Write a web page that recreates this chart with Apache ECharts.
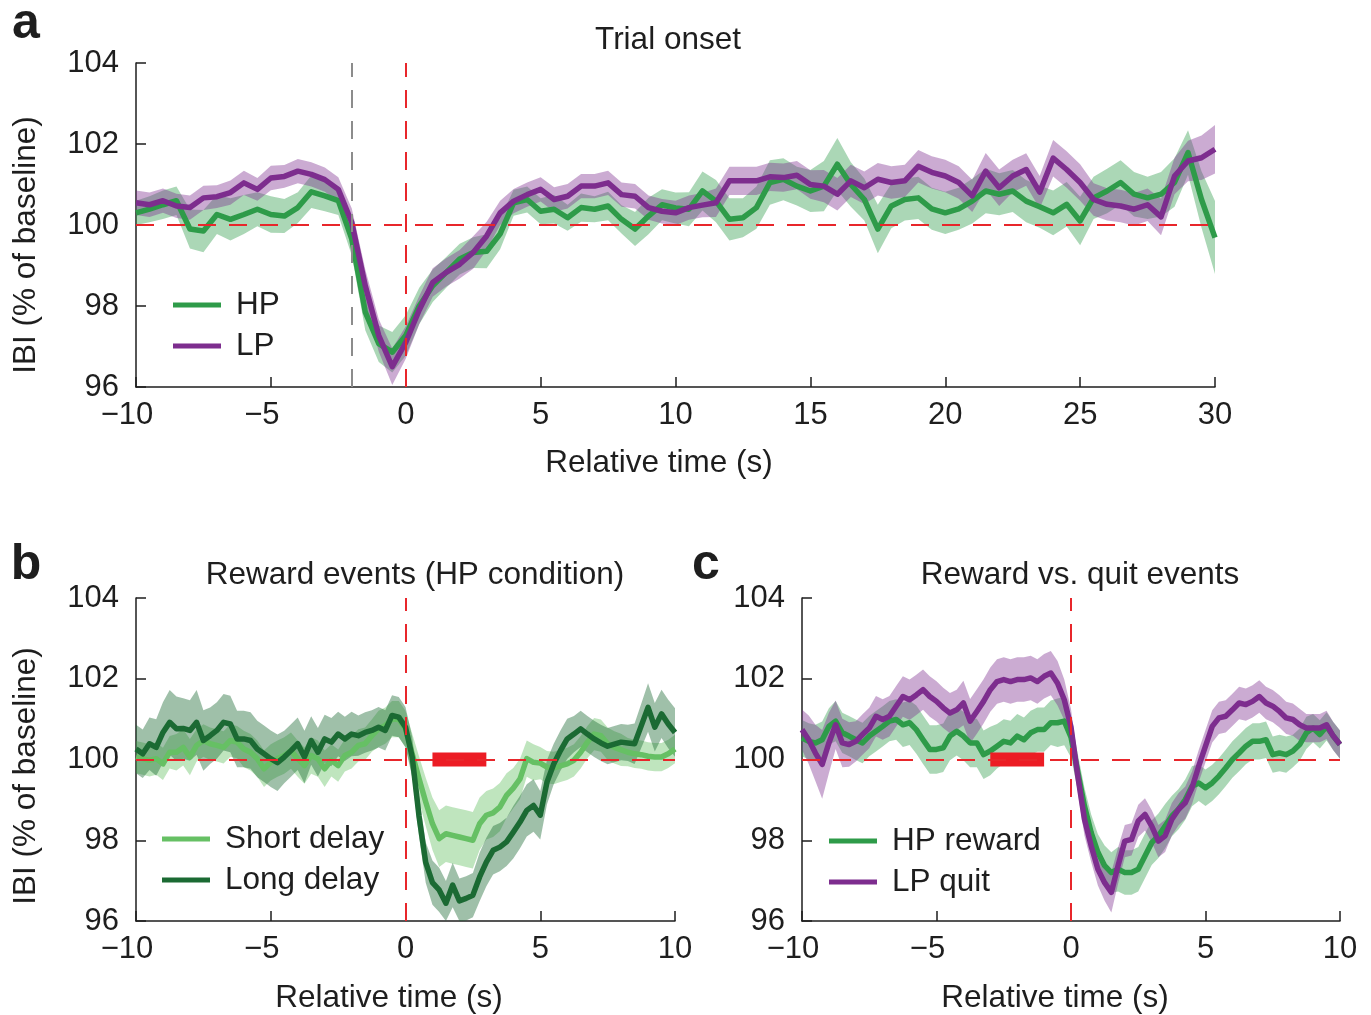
<!DOCTYPE html>
<html><head><meta charset="utf-8">
<script src="https://cdn.jsdelivr.net/npm/echarts/dist/echarts.min.js"></script>
<style>html,body{margin:0;padding:0;background:#fff}#c{width:1371px;height:1015px}</style>
</head><body><div id="c"></div><script>
// ---------- DATA ----------
const tA = [-10,-9.5,-9,-8.5,-8,-7.5,-7,-6.5,-6,-5.5,-5,-4.5,-4,-3.5,-3,-2.5,-2,-1.5,-1,-0.5,0,0.5,1,1.5,2,2.5,3,3.5,4,4.5,5,5.5,6,6.5,7,7.5,8,8.5,9,9.5,10,10.5,11,11.5,12,12.5,13,13.5,14,14.5,15,15.5,16,16.5,17,17.5,18,18.5,19,19.5,20,20.5,21,21.5,22,22.5,23,23.5,24,24.5,25,25.5,26,26.5,27,27.5,28,28.5,29,29.5,30];
const aHP = [100.30,100.39,100.50,100.60,99.90,99.85,100.26,100.14,100.26,100.39,100.26,100.22,100.43,100.82,100.72,100.60,99.65,97.85,97.07,96.86,97.27,98.00,98.50,98.83,99.16,99.32,99.35,99.78,100.55,100.63,100.34,100.39,100.18,100.43,100.39,100.47,100.14,99.90,100.22,100.50,100.42,
  100.39,100.84,100.59,100.14,100.18,100.43,101.05,101.13,100.96,100.84,100.96,101.50,101.00,100.63,99.90,100.47,100.63,100.67,100.40,100.30,100.40,100.59,100.84,100.76,100.84,100.59,100.45,100.30,100.51,100.10,100.67,100.84,101.05,100.76,100.67,100.76,101.05,101.79,100.63,99.69];
const aHPerr = [0.30,0.32,0.35,0.35,0.48,0.52,0.48,0.52,0.48,0.42,0.45,0.42,0.38,0.40,0.38,0.35,0.40,0.45,0.45,0.50,0.50,0.45,0.40,0.38,0.38,0.38,0.42,0.38,0.32,0.32,0.32,0.35,0.32,0.35,0.32,0.35,0.35,0.42,0.45,0.38,0.38,
  0.42,0.48,0.52,0.52,0.48,0.52,0.55,0.52,0.48,0.52,0.62,0.65,0.55,0.52,0.60,0.55,0.52,0.52,0.52,0.52,0.52,0.55,0.55,0.52,0.52,0.52,0.52,0.55,0.55,0.60,0.52,0.55,0.55,0.55,0.52,0.55,0.60,0.55,0.70,0.90];
const aLP = [100.55,100.50,100.60,100.47,100.43,100.67,100.70,100.80,101.04,100.88,101.16,101.20,101.33,101.25,101.12,100.88,100.06,98.50,97.27,96.50,97.10,97.90,98.58,98.83,99.03,99.32,99.73,100.30,100.59,100.75,100.88,100.63,100.71,100.96,100.96,101.04,100.75,100.71,100.43,100.34,100.30,
  100.43,100.49,100.55,101.09,101.09,101.09,101.19,101.17,101.23,101.00,100.96,100.76,101.09,100.92,101.13,101.05,101.09,101.45,101.30,101.21,101.05,100.72,101.33,100.92,101.21,101.37,100.81,101.65,101.37,101.05,100.63,100.51,100.47,100.39,100.50,100.20,101.21,101.58,101.66,101.87];
const aLPerr = [0.30,0.30,0.30,0.30,0.30,0.30,0.28,0.30,0.30,0.28,0.30,0.28,0.30,0.30,0.30,0.30,0.35,0.40,0.40,0.45,0.40,0.35,0.35,0.35,0.35,0.40,0.35,0.30,0.30,0.30,0.30,0.30,0.30,0.30,0.30,0.30,0.30,0.30,0.30,0.30,0.30,
  0.30,0.30,0.35,0.35,0.35,0.35,0.35,0.35,0.35,0.35,0.40,0.40,0.40,0.40,0.40,0.40,0.40,0.40,0.40,0.40,0.40,0.40,0.45,0.45,0.40,0.40,0.40,0.45,0.45,0.45,0.40,0.40,0.40,0.40,0.40,0.45,0.45,0.50,0.55,0.60];

const tB = [-10,-9.75,-9.5,-9.25,-9,-8.75,-8.5,-8.25,-8,-7.75,-7.5,-7.25,-7,-6.75,-6.5,-6.25,-6,-5.75,-5.5,-5.25,-5,-4.75,-4.5,-4.25,-4,-3.75,-3.5,-3.25,-3,-2.75,-2.5,-2.25,-2,-1.75,-1.5,-1.25,-1,-0.75,-0.5,-0.25,0,0.25,0.5,0.75,1,1.25,1.5,1.75,2,2.25,2.5,2.75,3,3.25,3.5,3.75,4,4.25,4.5,4.75,5,5.25,5.5,5.75,6,6.25,6.5,6.75,7,7.25,7.5,7.75,8,8.25,8.5,8.75,9,9.25,9.5,9.75,10];
const bShort = [100.06,100.02,99.98,100.02,99.89,100.18,100.18,100.30,100.06,100.35,100.47,100.39,100.35,100.30,100.47,100.43,100.26,100.18,100.02,99.77,99.93,100.02,100.10,100.22,100.02,99.85,100.10,100.02,99.77,99.98,99.85,100.10,100.18,100.35,100.39,100.59,100.76,100.84,101.00,101.00,
  100.76,100.14,99.53,98.95,98.41,98.04,98.16,98.12,98.08,98.04,98.00,98.41,98.62,98.68,98.82,99.11,99.29,99.52,100.02,99.93,99.91,99.81,99.79,99.84,99.89,99.98,100.18,100.43,100.63,100.59,100.39,100.30,100.24,100.18,100.14,100.12,100.08,100.06,100.06,100.14,100.26];
const bShortErr = [0.40,0.40,0.40,0.40,0.40,0.40,0.45,0.45,0.45,0.40,0.40,0.40,0.40,0.40,0.40,0.40,0.45,0.45,0.45,0.45,0.45,0.45,0.45,0.45,0.45,0.45,0.45,0.45,0.45,0.40,0.40,0.40,0.40,0.40,0.40,0.40,0.45,0.45,0.45,0.45,
  0.45,0.50,0.55,0.60,0.65,0.70,0.70,0.70,0.70,0.70,0.70,0.65,0.60,0.60,0.60,0.55,0.50,0.50,0.45,0.45,0.40,0.40,0.40,0.40,0.40,0.40,0.40,0.40,0.40,0.40,0.40,0.40,0.40,0.35,0.35,0.35,0.35,0.35,0.35,0.35,0.35];
const bLong = [100.26,100.14,100.39,100.30,100.67,100.92,100.76,100.77,100.72,100.92,100.47,100.59,100.72,100.92,100.88,100.51,100.51,100.47,100.26,100.14,100.02,99.92,100.06,100.22,100.39,100.06,100.47,100.18,100.51,100.43,100.63,100.51,100.63,100.59,100.67,100.72,100.80,100.72,101.09,101.05,
  100.80,100.06,98.60,97.45,96.95,96.77,96.44,96.89,96.50,96.56,96.64,97.09,97.46,97.75,97.83,97.96,98.20,98.45,98.74,98.86,98.62,99.44,99.89,100.22,100.51,100.63,100.76,100.63,100.51,100.41,100.33,100.38,100.43,100.41,100.39,100.84,101.29,100.80,101.13,100.88,100.67];
const bLongErr = [0.60,0.60,0.65,0.70,0.75,0.80,0.80,0.75,0.75,0.80,0.75,0.70,0.70,0.70,0.70,0.70,0.70,0.70,0.70,0.70,0.70,0.70,0.65,0.65,0.65,0.65,0.60,0.60,0.60,0.60,0.55,0.55,0.55,0.50,0.50,0.50,0.50,0.50,0.50,0.50,
  0.50,0.50,0.50,0.50,0.55,0.55,0.55,0.55,0.55,0.55,0.55,0.60,0.60,0.60,0.60,0.60,0.65,0.65,0.65,0.65,0.60,0.55,0.50,0.50,0.50,0.45,0.45,0.45,0.45,0.45,0.45,0.45,0.45,0.45,0.50,0.55,0.60,0.60,0.60,0.60,0.60];
const barB = [1, 3];

const tC = [-10,-9.75,-9.5,-9.25,-9,-8.75,-8.5,-8.25,-8,-7.75,-7.5,-7.25,-7,-6.75,-6.5,-6.25,-6,-5.75,-5.5,-5.25,-5,-4.75,-4.5,-4.25,-4,-3.75,-3.5,-3.25,-3,-2.75,-2.5,-2.25,-2,-1.75,-1.5,-1.25,-1,-0.75,-0.5,-0.25,0,0.25,0.5,0.75,1,1.25,1.5,1.75,2,2.25,2.5,2.75,3,3.25,3.5,3.75,4,4.25,4.5,4.75,5,5.25,5.5,5.75,6,6.25,6.5,6.75,7,7.25,7.5,7.75,8,8.25,8.5,8.75,9,9.25,9.5,9.75,10];
const cHP = [100.53,100.45,100.41,100.49,100.82,100.95,100.66,100.58,100.49,100.41,100.58,100.70,100.82,100.95,100.99,100.86,100.91,100.74,100.49,100.25,100.25,100.29,100.58,100.70,100.58,100.41,100.41,100.12,100.21,100.33,100.45,100.41,100.58,100.49,100.66,100.74,100.74,100.91,100.91,100.95,
  100.55,99.70,98.85,98.19,97.70,97.37,97.20,97.28,97.20,97.20,97.28,97.61,97.94,98.11,98.35,98.60,98.77,99.01,99.34,99.42,99.30,99.42,99.59,99.79,100.00,100.16,100.33,100.45,100.45,100.49,100.12,100.16,100.12,100.21,100.37,100.66,100.78,100.62,100.82,100.58,100.37];
const cHPerr = [0.45,0.45,0.45,0.45,0.45,0.50,0.50,0.50,0.50,0.50,0.50,0.50,0.50,0.50,0.50,0.55,0.55,0.60,0.60,0.60,0.60,0.60,0.60,0.60,0.60,0.60,0.60,0.60,0.60,0.55,0.55,0.55,0.55,0.55,0.55,0.55,0.55,0.55,0.60,0.60,
  0.50,0.45,0.45,0.45,0.45,0.50,0.50,0.55,0.55,0.55,0.55,0.55,0.55,0.55,0.55,0.50,0.50,0.50,0.50,0.45,0.45,0.45,0.45,0.45,0.45,0.45,0.45,0.45,0.45,0.45,0.45,0.45,0.45,0.40,0.40,0.40,0.35,0.35,0.35,0.35,0.35];
const cLP = [100.74,100.49,100.16,99.88,100.41,100.86,100.41,100.37,100.45,100.62,100.78,101.07,100.99,101.07,101.32,101.56,101.48,101.60,101.73,101.56,101.44,101.28,101.15,101.23,101.40,100.95,101.19,101.44,101.73,101.93,101.98,101.93,101.98,101.98,102.02,101.93,102.06,102.14,101.89,101.48,
  100.80,99.60,98.52,97.86,97.28,96.95,96.71,97.37,97.98,98.02,98.48,98.64,98.35,97.98,98.11,98.52,98.77,98.93,99.30,99.84,100.33,100.82,101.03,101.07,101.23,101.40,101.36,101.44,101.56,101.40,101.32,101.19,101.03,100.99,100.86,100.78,100.78,100.78,100.86,100.58,100.37];
const cLPerr = [0.50,0.60,0.70,0.85,0.75,0.60,0.60,0.55,0.50,0.50,0.50,0.50,0.50,0.50,0.50,0.50,0.50,0.50,0.50,0.50,0.50,0.50,0.50,0.50,0.55,0.55,0.55,0.55,0.55,0.55,0.55,0.55,0.55,0.55,0.55,0.55,0.55,0.55,0.55,0.50,
  0.45,0.40,0.40,0.40,0.40,0.45,0.50,0.45,0.40,0.40,0.40,0.40,0.40,0.40,0.40,0.40,0.40,0.40,0.40,0.40,0.40,0.40,0.40,0.40,0.40,0.40,0.40,0.40,0.40,0.40,0.40,0.40,0.40,0.40,0.40,0.35,0.35,0.35,0.35,0.35,0.35];
const barC = [-3, -1];

const yTicks = [96, 98, 100, 102, 104];

// ---------- STYLE ----------
const FONT = "'Liberation Sans', Arial, Helvetica, sans-serif";
const INK = '#1e1e1e';
const RED = '#e8262b';
const TICK_FS = 31, TEXT_FS = 31.5;
const C_HP = '#2e9b49', C_HP_B = 'rgba(46,155,73,0.40)';
const C_LP = '#7d2d8e', C_LP_B = 'rgba(125,45,142,0.40)';
const C_SH = '#66c064', C_SH_B = 'rgba(102,192,100,0.42)';
const C_LO = '#1b6a33', C_LO_B = 'rgba(27,106,51,0.42)';

function xAxis(gi, min, max) {
  return {
    type: 'value', gridIndex: gi, min: min, max: max, interval: 5,
    axisLine: { show: true, onZero: false, lineStyle: { color: INK, width: 1.5 } },
    axisTick: { show: true, inside: true, length: 10, lineStyle: { color: INK, width: 1.5 } },
    splitLine: { show: false },
    axisLabel: {
      margin: 13, fontSize: TICK_FS, fontFamily: FONT, color: INK,
      formatter: v => v < 0 ? '\u2212' + Math.abs(v) + '{h|\u2212}' : String(v),
      rich: { h: { color: 'rgba(0,0,0,0)', fontSize: TICK_FS, fontFamily: FONT } }
    }
  };
}
function yAxis(gi) {
  return {
    type: 'value', gridIndex: gi, min: yTicks[0], max: yTicks[yTicks.length - 1], interval: 2,
    axisLine: { show: true, onZero: false, lineStyle: { color: INK, width: 1.5 } },
    axisTick: { show: true, inside: true, length: 10, lineStyle: { color: INK, width: 1.5 } },
    splitLine: { show: false },
    axisLabel: { margin: 17, fontSize: TICK_FS, fontFamily: FONT, color: INK }
  };
}
const Y_MIN = yTicks[0], Y_MAX = yTicks[yTicks.length - 1];
function clampY(v) { return Math.max(Y_MIN, Math.min(Y_MAX, v)); }
function band(t, m, e, color, ax) {
  return {
    type: 'custom', xAxisIndex: ax, yAxisIndex: ax, silent: true, z: 2, clip: true,
    data: t.map((x, i) => [x, +(m[i] - e[i]).toFixed(3), +(m[i] + e[i]).toFixed(3)]),
    encode: { x: 0, y: [1, 2] },
    renderItem: function (params, api) {
      if (params.dataIndex !== 0) return null;
      const up = [], dn = [];
      for (let i = 0; i < t.length; i++) {
        up.push(api.coord([t[i], clampY(m[i] + e[i])]));
        dn.push(api.coord([t[i], clampY(m[i] - e[i])]));
      }
      return { type: 'polygon', shape: { points: up.concat(dn.reverse()) }, style: { fill: color } };
    }
  };
}
function line(name, t, m, color, ax) {
  return { name: name, type: 'line', xAxisIndex: ax, yAxisIndex: ax, data: t.map((x, i) => [x, m[i]]),
    symbol: 'none', showSymbol: false, color: color, silent: true,
    lineStyle: { width: 5.5, color: color, join: 'round' }, itemStyle: { color: color },
    emphasis: { disabled: true }, z: 3 };
}
function refs(ax, extra) {
  const d = [{ yAxis: 100 }, { xAxis: 0 }].concat(extra || []);
  return { type: 'line', xAxisIndex: ax, yAxisIndex: ax, data: [], silent: true, z: 1,
    markLine: { silent: true, symbol: ['none', 'none'], label: { show: false }, animation: false,
      lineStyle: { color: RED, width: 2, type: [18, 13] }, data: d } };
}
function bar(ax, range) {
  return { type: 'line', xAxisIndex: ax, yAxisIndex: ax, data: [[range[0], 100], [range[1], 100]],
    symbol: 'none', silent: true, lineStyle: { width: 14, color: '#ec1c24', cap: 'butt' }, z: 4 };
}
function legend(names, left, top) {
  return { data: names, left: left, top: top, orient: 'vertical', icon: 'rect', itemWidth: 48, itemHeight: 5,
    itemGap: 7, padding: 0, selectedMode: false,
    textStyle: { fontSize: TEXT_FS, fontFamily: FONT, color: INK, lineHeight: 34, padding: [0, 0, 0, 10] } };
}
function txt(x, y, s, size, opts) {
  return Object.assign({ type: 'text', x: x, y: y, silent: true,
    style: { text: s, font: (opts && opts.bold ? 'bold ' : '') + size + 'px ' + FONT, fill: INK,
      textAlign: 'center', textVerticalAlign: 'middle' } }, opts && opts.rot ? { rotation: opts.rot } : {});
}

const option = {
  animation: false,
  backgroundColor: '#fff',
  grid: [
    { left: 136, top: 63, width: 1079, height: 324 },
    { left: 136, top: 598, width: 539, height: 323 },
    { left: 802, top: 598, width: 538, height: 323 }
  ],
  xAxis: [xAxis(0, -10, 30), xAxis(1, -10, 10), xAxis(2, -10, 10)],
  yAxis: [yAxis(0), yAxis(1), yAxis(2)],
  legend: [
    legend(['HP', 'LP'], 173, 288),
    legend(['Short delay', 'Long delay'], 162, 822),
    legend(['HP reward', 'LP quit'], 829, 824)
  ],
  series: [
    refs(0, [{ xAxis: -2, lineStyle: { color: '#8c8c8c' } }]),
    band(tA, aHP, aHPerr, C_HP_B, 0),
    band(tA, aLP, aLPerr, C_LP_B, 0),
    line('HP', tA, aHP, C_HP, 0),
    line('LP', tA, aLP, C_LP, 0),

    refs(1),
    band(tB, bShort, bShortErr, C_SH_B, 1),
    band(tB, bLong, bLongErr, C_LO_B, 1),
    line('Short delay', tB, bShort, C_SH, 1),
    line('Long delay', tB, bLong, C_LO, 1),
    bar(1, barB),

    refs(2),
    band(tC, cHP, cHPerr, C_HP_B, 2),
    band(tC, cLP, cLPerr, C_LP_B, 2),
    line('HP reward', tC, cHP, C_HP, 2),
    line('LP quit', tC, cLP, C_LP, 2),
    bar(2, barC)
  ],
  graphic: [
    txt(26, 24, 'a', 50, { bold: true }),
    txt(26, 565, 'b', 50, { bold: true }),
    txt(706, 565, 'c', 50, { bold: true }),
    txt(668, 40, 'Trial onset', TEXT_FS),
    txt(415, 575, 'Reward events (HP condition)', TEXT_FS),
    txt(1080, 575, 'Reward vs. quit events', TEXT_FS),
    txt(659, 463, 'Relative time (s)', TEXT_FS),
    txt(389, 998, 'Relative time (s)', TEXT_FS),
    txt(1055, 998, 'Relative time (s)', TEXT_FS),
    txt(26, 245, 'IBI (% of baseline)', TEXT_FS, { rot: Math.PI / 2 }),
    txt(26, 776, 'IBI (% of baseline)', TEXT_FS, { rot: Math.PI / 2 })
  ]
};
const chart = echarts.init(document.getElementById('c'), null, { renderer: 'canvas' });
chart.setOption(option);
</script></body></html>
